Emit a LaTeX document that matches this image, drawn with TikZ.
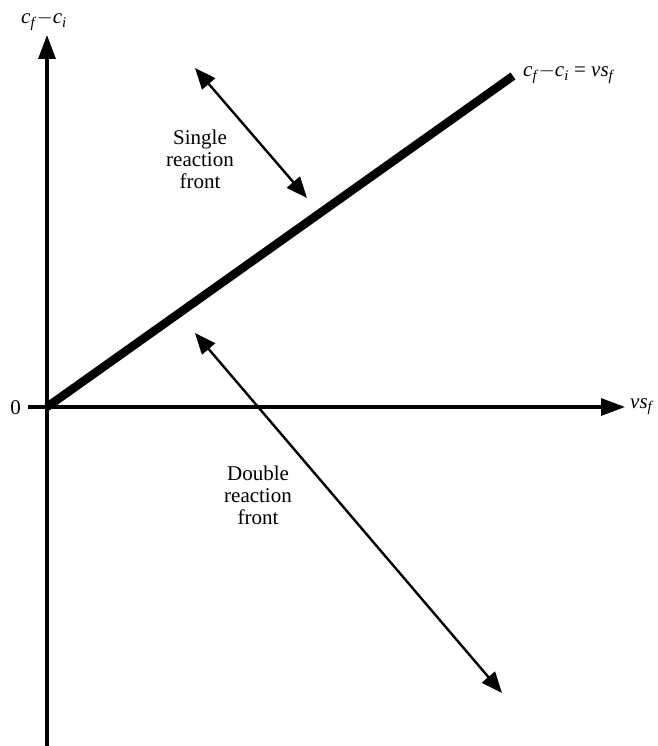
\documentclass[tikz,border=0pt]{standalone}
\usepackage{fontspec}
\setmainfont{Liberation Serif}
\usetikzlibrary{arrows.meta}
\newcommand{\vsub}[2]{\textit{#1}\textsubscript{\textit{#2}}}
\begin{document}
\begin{tikzpicture}[x=1pt,y=-1pt,
  axis/.style={line width=3.2pt,-{Triangle[length=24pt,width=17pt]}},
  dbl/.style={line width=2.4pt,{Triangle[length=21pt,width=17pt]}-{Triangle[length=21pt,width=17pt]}},
  lbl/.style={font=\fontsize{21}{22}\selectfont,align=center,inner sep=0pt},
  mlbl/.style={font=\fontsize{21}{22}\selectfont,inner sep=0pt}]
\useasboundingbox (0,0) rectangle (657,746);
\coordinate (O) at (47,407);
\coordinate (ybot) at (47,746);
\coordinate (ytop) at (47,35);
\coordinate (xleft) at (28,407);
\coordinate (xright) at (625,407);
\coordinate (lend) at (513,76);
\draw[axis] (ybot) -- (ytop);
\draw[axis] (xleft) -- (xright);
\draw[line width=8.5pt] (O) -- (lend);
\node[mlbl,anchor=base] (ylab) at (44,24) {\vsub{c}{f}$-$\vsub{c}{i}};
\node[mlbl,anchor=east] (zero) at (21,408) {0};
\node[mlbl,anchor=base west] (xlab) at (630,408) {\textit{v}\vsub{s}{f}};
\node[mlbl,anchor=base west] (llab) at (523,77) {\vsub{c}{f}$-$\vsub{c}{i} = \textit{v}\vsub{s}{f}};
\coordinate (a1) at (195,68);
\coordinate (a2) at (307,198);
\coordinate (b1) at (195,333);
\coordinate (b2) at (502,693);
\draw[dbl] (a1) -- (a2);
\draw[dbl] (b1) -- (b2);
\node[lbl] (single) at (200,159) {Single\\reaction\\front};
\node[lbl] (double) at (258,495) {Double\\reaction\\front};
\end{tikzpicture}
\end{document}
